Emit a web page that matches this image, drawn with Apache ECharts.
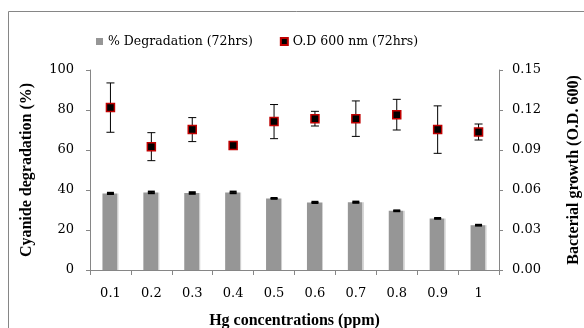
<!DOCTYPE html>
<html>
<head>
<meta charset="utf-8">
<script src="https://cdn.jsdelivr.net/npm/echarts@6/dist/echarts.min.js"></script>
<style>
  html, body { margin: 0; padding: 0; background: #fff; }
  #chart { width: 584px; height: 328px; }
</style>
</head>
<body>
<div id="chart"></div>
<script>
// Hg levels (ppm) on the x axis
const hgLevels = ['0.1', '0.2', '0.3', '0.4', '0.5', '0.6', '0.7', '0.8', '0.9', '1'];

// % cyanide degradation after 72 hrs (left axis) and its error
const degradation = [38.3, 38.8, 38.5, 38.8, 35.8, 33.8, 33.9, 29.6, 25.8, 22.4];
const degradationErr = [0.3, 0.4, 0.4, 0.4, 0.2, 0.3, 0.3, 0.2, 0.2, 0.2];

// O.D 600 nm after 72 hrs (right axis) and its error
const odValues = [0.1218, 0.0925, 0.1053, 0.0933, 0.1113, 0.1135, 0.1135, 0.1165, 0.1053, 0.1035];
const odErr = [0.0185, 0.0105, 0.009, 0.0015, 0.0128, 0.0055, 0.0133, 0.0115, 0.0178, 0.006];

const leftTicks = { min: 0, max: 100, interval: 20 };
const rightTicks = { min: 0, max: 0.15, interval: 0.03 };

const labelFont = 'DejaVu Serif';
const titleFont = 'Liberation Serif';

// error bar drawing: data item = [categoryIndex, low, high]
function errorBarRenderer(capHalf, capWidth) {
  return function (params, api) {
    const x = api.value(0);
    const low = api.coord([x, api.value(1)]);
    const high = api.coord([x, api.value(2)]);
    const style = { stroke: '#000', lineWidth: 1 };
    const capStyle = { stroke: '#000', lineWidth: capWidth };
    return {
      type: 'group',
      children: [
        { type: 'line', shape: { x1: low[0], y1: low[1], x2: high[0], y2: high[1] }, style },
        { type: 'line', shape: { x1: low[0] - capHalf, y1: low[1], x2: low[0] + capHalf, y2: low[1] }, style: capStyle },
        { type: 'line', shape: { x1: high[0] - capHalf, y1: high[1], x2: high[0] + capHalf, y2: high[1] }, style: capStyle }
      ]
    };
  };
}

const chart = echarts.init(document.getElementById('chart'));

const titleStyle = { fontFamily: titleFont, fontSize: 16, fontWeight: 'bold', color: '#000' };
const tickStyle = { fontFamily: labelFont, fontSize: 13, color: '#000' };

// grey bar with the thin light right edge seen in the original
const barFill = new echarts.graphic.LinearGradient(0, 0, 1, 0, [
  { offset: 0, color: '#969696' },
  { offset: 0.91, color: '#969696' },
  { offset: 0.91, color: '#cfcfcf' },
  { offset: 1, color: '#cfcfcf' }
]);

const option = {
  animation: false,
  textStyle: { fontFamily: labelFont, color: '#000' },
  graphic: [{
    type: 'rect',
    shape: { x: 8.5, y: 11.5, width: 700, height: 500 },
    style: { fill: 'none', stroke: '#868686', lineWidth: 1 },
    silent: true
  }],
  legend: {
    left: 91,
    top: 30,
    itemWidth: 7,
    itemHeight: 7,
    itemGap: 27,
    textStyle: { fontFamily: labelFont, fontSize: 12.5, color: '#000' },
    data: [
      { name: '% Degradation (72hrs)', icon: 'rect', itemStyle: { color: '#969696' } },
      { name: 'O.D 600 nm (72hrs)', icon: 'rect' }
    ]
  },
  grid: { left: 90, right: 85, top: 70, bottom: 58, outerBoundsMode: 'none' },
  xAxis: {
    type: 'category',
    data: hgLevels,
    name: 'Hg concentrations (ppm)',
    nameLocation: 'middle',
    nameGap: 43,
    nameTextStyle: titleStyle,
    axisLine: { lineStyle: { color: '#868686' } },
    axisTick: { show: true, length: 5, lineStyle: { color: '#868686' } },
    axisLabel: Object.assign({ margin: 17 }, tickStyle)
  },
  yAxis: [{
    type: 'value',
    min: leftTicks.min,
    max: leftTicks.max,
    interval: leftTicks.interval,
    name: 'Cyanide degradation (%)',
    nameLocation: 'middle',
    nameGap: 55,
    nameTextStyle: titleStyle,
    axisLine: { show: true, lineStyle: { color: '#868686' } },
    axisTick: { show: true, length: 4, lineStyle: { color: '#868686' } },
    axisLabel: Object.assign({ margin: 16 }, tickStyle),
    splitLine: { show: false }
  }, {
    type: 'value',
    position: 'right',
    min: rightTicks.min,
    max: rightTicks.max,
    interval: rightTicks.interval,
    name: 'Bacterial growth (O.D. 600)',
    nameLocation: 'middle',
    nameGap: 67,
    nameRotate: 90,
    nameTextStyle: titleStyle,
    axisLine: { show: true, lineStyle: { color: '#868686' } },
    axisTick: { show: true, length: 4, lineStyle: { color: '#868686' } },
    axisLabel: Object.assign({ margin: 13, formatter: v => v.toFixed(2) }, tickStyle),
    splitLine: { show: false }
  }],
  series: [{
    name: '% Degradation (72hrs)',
    type: 'bar',
    yAxisIndex: 0,
    barWidth: 16,
    itemStyle: { color: barFill },
    data: degradation
  }, {
    type: 'custom',
    yAxisIndex: 0,
    renderItem: errorBarRenderer(3.5, 2),
    data: degradation.map((v, i) => [i, v - degradationErr[i], v + degradationErr[i]]),
    z: 5
  }, {
    type: 'custom',
    yAxisIndex: 1,
    renderItem: errorBarRenderer(4, 1),
    data: odValues.map((v, i) => [i, v - odErr[i], v + odErr[i]]),
    z: 5
  }, {
    name: 'O.D 600 nm (72hrs)',
    type: 'scatter',
    yAxisIndex: 1,
    symbol: 'rect',
    symbolSize: 8,
    itemStyle: { color: '#000', borderColor: '#c00000', borderWidth: 1.5, opacity: 1 },
    data: odValues,
    z: 10
  }]
};

chart.setOption(option);
</script>
</body>
</html>
